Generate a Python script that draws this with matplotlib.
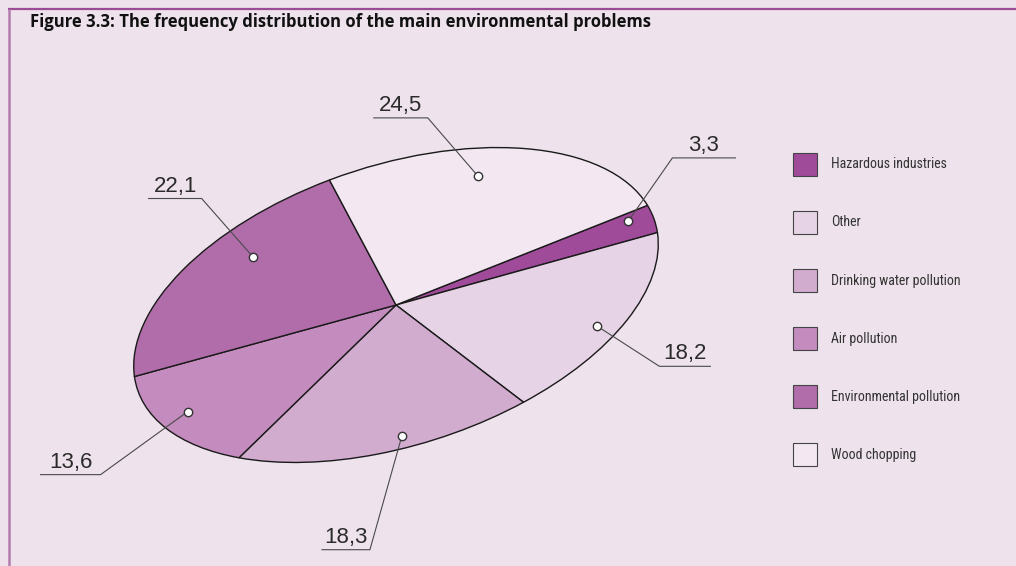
import numpy as np
import matplotlib.pyplot as plt
from matplotlib.patches import Rectangle
from matplotlib.transforms import Affine2D

categories = ["Hazardous industries", "Other", "Drinking water pollution",
              "Air pollution", "Environmental pollution", "Wood chopping"]
values = [3.3, 18.2, 18.3, 13.6, 22.1, 24.5]
value_labels = ["3,3", "18,2", "18,3", "13,6", "22,1", "24,5"]
colors = ["#a04a9a", "#e6d4e6", "#d2acce", "#c38bbe", "#b16caa", "#f3e8f2"]

title = "Figure 3.3: The frequency distribution of the main environmental problems"

BG = "#eee2ec"
W, H = 1016, 566
CX, CY = 396, H - 305          # pie centre, pixels (y up)
SEMI_A, SEMI_B, TILT = 272, 140, 18
START = 7

# where the dot sits in each wedge: (fraction of wedge angle, fraction of radius)
dot_pos = [(0.72, 0.91), (0.45, 0.90), (0.58, 0.91),
           (0.46, 0.89), (0.37, 0.785), (0.58, 0.82)]
# leader: (dx, dy) from dot to elbow, then horizontal run
leaders = [(44, 63, 63), (62, -40, 51), (-32, -114, -48),
           (-87, -63, -60), (-51, 58, -53), (-50, 58, -54)]

fig = plt.figure(figsize=(W / 100, H / 100), dpi=100)
fig.patch.set_facecolor(BG)
ax = fig.add_axes([0, 0, 1, 1])

wedges, _ = ax.pie(values, colors=colors, startangle=START, counterclock=False,
                   wedgeprops=dict(edgecolor="#1a1a1a", linewidth=1.0))
ax.set_xlim(0, W)
ax.set_ylim(0, H)
ax.set_aspect("auto")
ax.axis("off")

# squash the round pie into a tilted ellipse
ellipse = Affine2D().scale(SEMI_A, SEMI_B).rotate_deg(TILT).translate(CX, CY)
for w in wedges:
    w.set_transform(ellipse + ax.transData)

# value labels with leader lines
for w, lab, (fa, fr), (dx, dy, run) in zip(wedges, value_labels, dot_pos, leaders):
    ang = np.deg2rad(w.theta1 + fa * (w.theta2 - w.theta1))
    px, py = ellipse.transform((fr * np.cos(ang), fr * np.sin(ang)))
    ex, ey = px + dx, py + dy
    ax.plot([px, ex, ex + run], [py, ey, ey], color="#4a4a4a", lw=0.8, zorder=3)
    ax.plot(px, py, "o", ms=6, mfc="white", mec="#333333", mew=1, zorder=4)
    ax.text(ex + run / 2, ey + 7, lab, ha="center", va="baseline", fontsize=16,
            family="Liberation Sans", color="#2b2b2b")

# legend
for i, (cat, col) in enumerate(zip(categories, colors)):
    yc = H - (164.5 + i * 58)
    ax.add_patch(Rectangle((793, yc - 11.5), 24, 23, fc=col, ec="#444444", lw=0.8))
    ax.text(831, yc, cat, va="center", ha="left", fontsize=10,
            family=["Roboto Condensed", "Liberation Sans Narrow", "DejaVu Sans"],
            fontstretch="condensed", color="#333333")

# frame
ax.plot([8, W], [H - 8.5, H - 8.5], color="#9c4c95", lw=1.6, solid_capstyle="butt")
ax.plot([9, 9], [0, H - 8.5], color="#b47cae", lw=1.8, solid_capstyle="butt")

fig.text(30 / W, (H - 27) / H, title, fontsize=12, fontweight="bold",
         family="Open Sans", va="baseline", color="#111111")

fig.savefig("out.png", dpi=100, facecolor=BG)
